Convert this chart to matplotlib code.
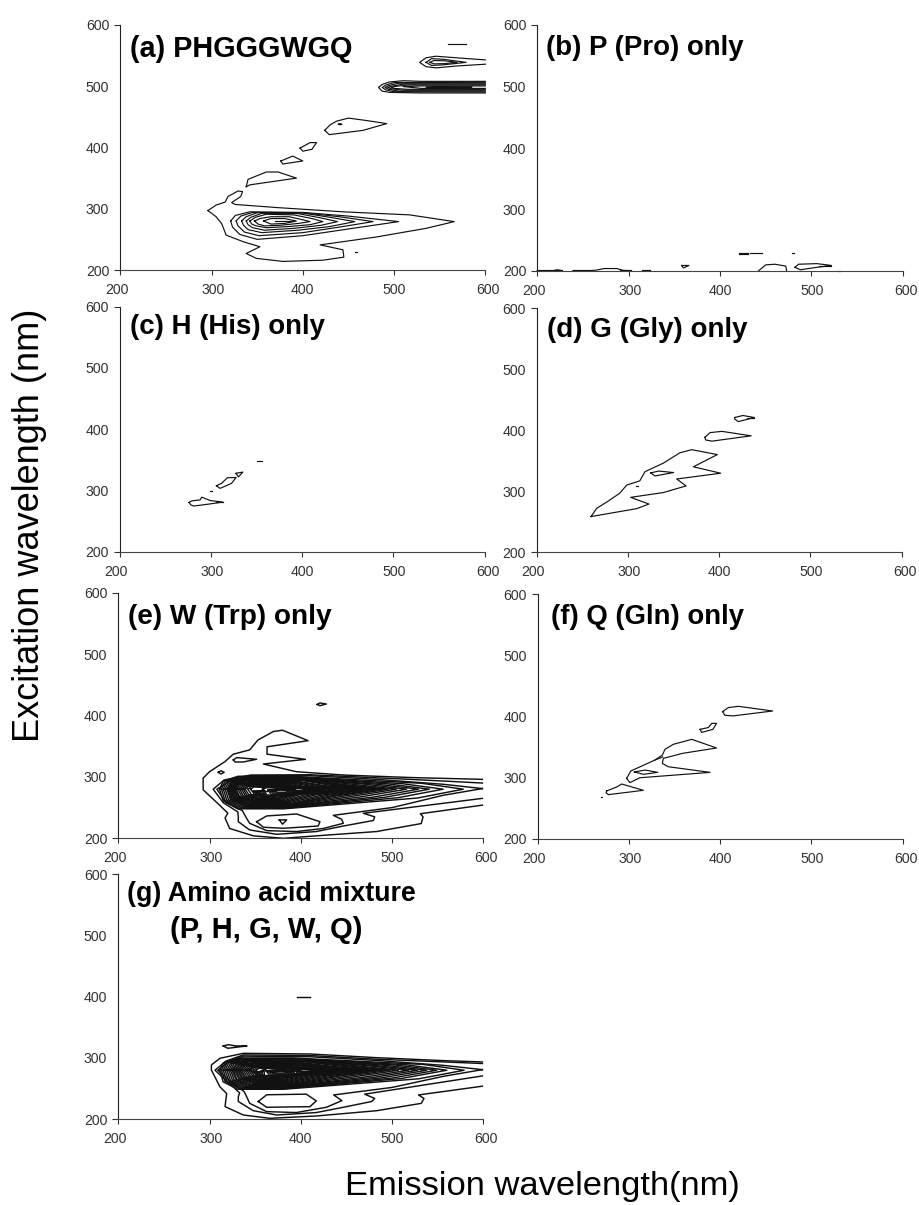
import matplotlib
matplotlib.use("Agg")
import matplotlib.pyplot as plt
from matplotlib.transforms import ScaledTranslation

plt.rcParams['font.family'] = ['Liberation Sans', 'DejaVu Sans']

W, H = 919, 1205
ticks = [200, 300, 400, 500, 600]
x_label_shift = [-3.5, 1.5, 0, 0.5, 3]
line_col = '#111111'

# each contour is a list of (emission, excitation)
a_closed = [
    [(296,297),(305,306),(315,311),(318,320),(329,329),(334,328),(332,320),(322,310),(326,307),(371,302),(444,295),(517,290),(566,279),(535,268),(481,254),(419,241),(444,233),(445,221),(422,216),(378,214),(349,219),(338,227),(353,238),(335,246),(316,257),(311,276),(305,287)],
    [(338,336),(340,348),(360,360),(373,360),(393,350),(342,339)],
    [(376,378),(389,386),(400,378),(378,373)],
    [(397,399),(408,408),(415,408),(410,397),(400,394)],
    [(424,428),(430,437),(437,443),(450,448),(470,444),(492,439),(466,428),(429,421)],
    [(439,438),(441,439),(443,438),(441,437)],
    [(321,280),(326,289),(342,295),(400,294),(450,288),(505,279),(450,267),(400,256),(350,250),(331,258),(323,270)],
    [(327,280),(332,288),(345,294),(400,293.5),(440,287),(477,279),(440,270),(400,261),(352,256),(336,262),(329,272)],
    [(333,280),(338,287),(350,293.5),(400,293),(430,286),(457,279),(430,271),(395,265),(355,261),(340,266),(335,273)],
    [(338,280),(343,286),(355,292.5),(395,292),(420,285),(438,279),(420,273),(390,268),(358,265),(345,269),(340,274)],
    [(342,280),(348,286),(360,291),(390,290),(410,284),(422,279),(408,274),(385,271),(360,269),(349,272),(344,275)],
    [(347,280),(353,284),(365,287),(385,287),(400,282),(408,279),(395,276),(375,273),(358,272),(351,275)],
    [(357,280),(365,284),(380,284),(393,280),(380,276),(365,275)],
    [(535,539),(541,545),(554,544),(579,539),(554,535),(541,534)],
    [(539,539),(544,542),(556,541.5),(569,539),(556,537),(544,536.5)],
    [(585,499),(545,499),(535,498.3),(585,498)],
]
a_open = [
    [(600,543),(568,546.5),(546,549),(535,546.5),(528,539),(535,532),(546,530),(568,533),(600,536)],
    [(600,508),(530,508),(510,509),(495,507),(487,503),(483,498),(487,492),(495,490),(530,489),(600,489)],
    [(600,506.5),(500,506),(491,502),(487,498),(491,494),(500,491),(600,490.5)],
    [(600,505),(505,505),(494,501),(490,498),(494,495),(505,492),(600,492)],
    [(600,503.5),(510,503.5),(497,500),(493,498),(497,496),(510,493.5),(600,493.5)],
    [(600,502),(515,502),(500,499.5),(497,498),(500,496.5),(515,495),(600,495)],
    [(600,500.5),(530,500.5),(510,499.5),(530,496.5),(600,496.5)],
    [(559,569),(579,569)],
    [(457,229),(459,229)],
    [(370,279.5),(390,279.5)],
]

b_closed = [
    [(358,209),(366,209),(360,205)],
    [(482,206),(486,211),(506,212),(522,209),(506,206),(488,202)],
]
b_open = [
    [(200,200.5),(217,200.5),(222,202),(227,200.5)],
    [(239,200.5),(257,200.5),(265,201.5),(273,204),(287,204),(294,201),(303,200.5)],
    [(200,201),(227,201)],
    [(239,201),(257,201)],
    [(290,201),(303,201)],
    [(315,201),(323,201)],
    [(421,229),(431,229)],
    [(433,229),(439,229)],
    [(441,229),(446,229)],
    [(421,228),(431,228)],
    [(479,229),(481,229)],
    [(442,200),(450,210),(460,211),(472,208),(473,200)],
    [(508,208),(522,208)],
    [(529,200.5),(531,200.5)],
]

c_closed = [
    [(276,280.5),(279,283),(288,284.5),(290,289),(299,283.6),(313,281),(299,278),(281,274.5),(278,276.5)],
    [(306,307.7),(311.5,311.5),(318,320.7),(327.5,321.2),(322.5,311.5),(310,303.4)],
    [(327.5,328),(335,330),(330,322)],
]
c_open = [
    [(305,281),(313,281)],
    [(299,299),(301,299)],
    [(351,348.5),(356,348.5)],
]

d_closed = [
    [(259.5,258.5),(265.8,272),(278.5,284),(291,296.7),(298.6,310),(313,317),(318.7,332),(338.8,346),(357,363),(369.9,368),(398,360),(371.7,340),(401.6,329.5),(353.4,320),(363.7,308.7),(338.8,297.8),(303,290),(323,279),(309.6,271.5)],
    [(325,330),(333.5,333),(350,330.6),(329.7,325)],
    [(384.5,388.5),(390,396),(403,398),(435,390.7),(392,382),(385,384)],
    [(417,420.7),(426,424),(438.5,420.7),(421,414),(417,418)],
]
d_open = [
    [(309,309),(311,309)],
    [(430,420.7),(438.5,420.7)],
]

# the W and mixture panels hold many nested contours around the 280 nm band
e_closed = [
    [(311,280),(315,293),(331,301),(391,301),(533,289.5),(578,280),(528,265.6),(381,248),(331,248),(315,261)],
    [(313,280),(317,293),(333,300),(393,300),(511,289),(556,280),(506,266),(383,249),(333,249),(317,261.5)],
    [(315,280),(319,292.5),(335,299),(395,299),(496,288.5),(541,280),(491,266.5),(385,250),(335,250),(319,262)],
    [(317,280),(321,292),(337,298),(397,298),(484,288),(529,280),(479,267),(387,251),(337,251),(321,262.5)],
    [(319,280),(323,292),(339,297.5),(399,297.5),(471,288),(516,280),(466,267.5),(389,252),(339,252),(323,263)],
    [(320,280),(324,291.5),(340,297),(400,297),(460,287.5),(505,280),(455,268),(390,253),(340,253),(324,263.5)],
    [(321,280),(325,291),(341,296),(400,296),(451,287),(496,280),(446,268.5),(390,254),(341,254),(325,264)],
    [(322,280),(326,291),(342,295.5),(400,295.5),(444,287),(489,280),(439,269),(390,255),(342,255),(326,264.5)],
    [(323,280),(327,290.5),(343,295),(400,295),(438,287),(483,280),(433,269),(390,256),(343,256),(327,265)],
    [(324,280),(328,290),(344,294.5),(400,294.5),(432,286.5),(477,280),(427,269.5),(390,257),(344,257),(328,265.5)],
    [(325,280),(329,289),(345,292.5),(398,292.5),(427,285.5),(472,280),(422,270),(388,258.5),(345,258.5),(329,266)],
    [(326,280),(330,289),(346,292),(396,292),(422,285.5),(467,280),(417,271),(386,259.5),(346,259.5),(330,267)],
    [(327,280),(331,288.5),(347,291),(394,291),(416,285),(461,280),(411,271),(384,260.5),(347,260.5),(331,267)],
    [(328,280),(332,288),(348,290),(392,290),(411,284.5),(456,280),(406,271.5),(382,261.5),(348,261.5),(332,268)],
    [(329,280),(333,287.5),(349,289),(390,289),(405,284),(450,280),(400,272),(380,262.5),(349,262.5),(333,268)],
    [(331,280),(335,287),(351,288),(388,288),(400,283.5),(445,280),(395,272.5),(378,263.5),(351,263.5),(335,269)],
    [(333,280),(337,286.5),(353,287),(386,287),(395,283),(440,280),(390,273),(376,264.5),(353,264.5),(337,269)],
    [(335,280),(339,286),(355,286),(384,286),(434,280),(374,265.5),(355,265.5),(339,270)],
    [(337,280),(341,285.5),(357,285),(382,285),(428,280),(372,266.5),(357,266.5),(341,270)],
    [(339,280),(343,285),(359,284),(380,284),(422,280),(370,268),(359,268),(343,271)],
    [(342,280),(346,284.5),(362,283),(378,283),(416,280),(368,269),(362,269),(346,271)],
    [(345,280),(349,284),(365,282.5),(376,282.5),(410,280),(372,270),(349,272)],
    [(364,279),(378,281.5),(394,279),(390,270.5),(368,270.5)],
    [(366,278.5),(378,280.5),(392,278.5),(388,272),(370,272)],
    [(368,278),(378,279.5),(390,278),(386,273.5),(372,273.5)],
    [(370,277.5),(378,278.5),(388,277.5),(384,275),(374,275)],
    [(348,277),(360,278),(362,272),(351,272.5)],
    [(350,276),(359,276.5),(360,273.5),(353,274)],
    [(396,277.5),(412,278),(396,272)],
    [(358,280),(365,284),(378,282),(372,277),(362,276)],
    [(385,279),(400,282),(425,280),(400,277)],
    [(326,327.6),(329.7,331.4),(351.6,328.7),(337,324.3),(328,324.3)],
    [(309.6,307.5),(312.5,310),(316,307.5),(312.5,304.7)],
    [(418,418),(421,420.4),(428,418.7),(421,416)],
    [(376.4,230),(384.5,230),(380,223)],
    [(351.6,227),(362.6,236.4),(395.4,239.6),(421,227),(419,220),(380.8,216.3),(359,218)],
]
e_open = [
    [(599,296),(520,299),(447,303),(395,308.5),(359,321),(405,328.6),(363,337),(363,349),(408,359),(380,376),(370,374),(353,360),(344,344),(326,337),(317,325),(300,308.5),(293,298),(293,279),(311,254),(320,241),(317,233),(322,216),(348,204),(381,200),(417,204),(483,211),(532,224),(534,235),(531,240),(599,254)],
    [(599,290),(520,296),(447,301),(410,303.5),(345,303),(316,295),(304,280),(315,258),(331,243),(331.5,235),(331.5,227),(344,213.6),(373.5,206.5),(417,211),(446.6,220),(479.5,229),(481,235),(468.5,240.7),(599,265)],
    [(599,281),(556,288),(483,296),(410,302),(345,302),(322,293),(308,280),(318,258),(336,245),(340.6,232.6),(344,224.4),(362.6,212.5),(395.4,211),(424.6,216),(446.6,224.4),(444.7,231),(435.6,237.4),(500,250),(556,270),(599,281)],
]

f_closed = [
    [(402.7,408),(409,414.6),(420,416.6),(457.5,409),(414.4,401),(405,402)],
    [(378,379),(387,382),(390.7,388.8),(396,388.8),(392,379),(379.7,374)],
    [(297.5,299),(302,311),(308.5,315.4),(328.6,329),(336.6,337),(339.5,346.4),(348.7,354.6),(368.8,362.7),(396,348.6),(359,339.9),(337.7,331.7),(336.6,323.5),(343,318),(388.9,308.8),(312,300),(301,292)],
    [(306,309.4),(317.7,312.6),(331.5,308.8),(315.9,305.6)],
    [(275.6,278.4),(287.3,285.4),(292,289.8),(315.8,279.5),(277.4,272.4),(274.9,275.6)],
]
f_open = [
    [(269.5,268.6),(270.5,268.6)],
    [(328.6,329),(337,334)],
]

g_closed = [
    [(311,280),(315,292),(331,300),(391,300),(534,289.5),(579,280),(529,266),(381,249),(331,249),(315,261)],
    [(313,280),(317,292),(333,299),(393,299),(515,289),(560,280),(510,266.5),(383,250),(333,250),(317,262)],
    [(315,280),(319,292),(335,298.5),(395,298.5),(504,288.5),(549,280),(499,267),(385,251),(335,251),(319,262)],
    [(317,280),(321,292),(337,298),(397,298),(493,288),(538,280),(488,267.5),(387,252),(337,252),(321,263)],
    [(319,280),(323,291),(339,297),(399,297),(483,287.5),(528,280),(478,268),(389,253),(339,253),(323,263)],
    [(321,280),(325,291),(341,296.5),(400,296.5),(473,287.5),(518,280),(468,268.5),(390,254),(341,254),(325,264)],
    [(323,280),(327,291),(343,296),(400,296),(462,287),(507,280),(457,269),(390,255),(343,255),(327,264)],
    [(324.5,280),(329,290),(345,295),(400,295),(453,287),(498,280),(448,269.5),(390,256),(345,256),(329,265)],
    [(326,280),(330,290),(346,294.5),(400,294.5),(445,286.5),(490,280),(440,270),(390,257),(346,257),(330,265)],
    [(327.5,280),(332,289),(348,292.5),(400,292.5),(439,285.5),(484,280),(434,270),(390,258.5),(348,258.5),(332,266)],
    [(329,280),(333,289),(349,292),(398,292),(433,285.5),(478,280),(428,270.5),(388,259.5),(349,259.5),(333,267)],
    [(330.5,280),(335,288.5),(351,291),(396,291),(428,285),(473,280),(423,271),(386,260.5),(351,260.5),(335,267)],
    [(332,280),(336,288),(352,290.5),(394,290.5),(423,285),(468,280),(418,271.5),(384,261.5),(352,261.5),(336,268)],
    [(333.5,280),(338,288),(354,290),(392,290),(418,284.5),(463,280),(413,272),(382,262.5),(354,262.5),(338,268)],
    [(335,280),(339,287.5),(355,289),(390,289),(413,284),(458,280),(408,272),(380,263.5),(355,263.5),(339,269)],
    [(337,280),(341,287),(357,288),(388,288),(408,283.5),(453,280),(403,272.5),(378,264.5),(357,264.5),(341,269)],
    [(339,280),(343,286.5),(359,287),(386,287),(403,283),(448,280),(398,273),(376,265.5),(359,265.5),(343,270)],
    [(341,280),(345,286),(361,286),(384,286),(443,280),(374,266.5),(361,266.5),(345,270)],
    [(343,280),(347,285.5),(363,285),(382,285),(438,280),(372,267.5),(363,267.5),(347,271)],
    [(345,280),(349,285),(365,284),(380,284),(432,280),(370,268.5),(349,271)],
    [(348,280),(352,284.5),(368,283),(378,283),(426,280),(372,269.5),(352,272)],
    [(351,280),(355,284),(370,282.5),(378,282.5),(420,280),(374,270.5),(355,272)],
    [(362,279),(378,281.5),(394,279),(390,271),(366,271)],
    [(364,278.5),(378,280.5),(392,278.5),(388,272.5),(368,272.5)],
    [(366,278),(378,279.5),(390,278),(386,274),(370,274)],
    [(368,277.5),(378,278.5),(388,277.5),(384,275.5),(372,275.5)],
    [(348,277),(360,278),(360,272),(351,272.5)],
    [(350,276),(358,276.5),(358,273.5),(353,274)],
    [(396,277.5),(412,278),(396,272)],
    [(340,280),(350,285),(362,281),(352,277)],
    [(395,279),(405,282),(417,280),(405,277)],
    [(353.4,229),(362.6,240),(406,241),(417,230),(410,220.6),(362.6,219.6)],
    [(315,319.6),(320.5,321.7),(329,319.6),(341,319.6),(328.5,317.4),(320,315.8)],
]
g_open = [
    [(599,293.5),(556,295.7),(483,300.5),(410,306.5),(337,307.6),(311.4,299.5),(302,288.6),(302,280.4),(311.4,253),(318.7,242),(317,220.7),(337,207),(366,201.6),(417,205.4),(483,214),(532,226),(535,234),(529,239.7),(599,254)],
    [(599,291),(483,298),(410,304),(337,305),(318,295),(306,280),(322,258),(333,243),(331.5,237),(331.5,229),(348,214),(373.5,207),(417,211),(446.6,219.6),(477.6,229),(481,234),(470,241),(599,270.7)],
    [(599,281),(556,288),(483,296),(410,302),(337,303),(320,293),(309,280),(326,258),(338,245),(340.6,237),(344,226),(362.6,212.5),(395,211),(428,219.6),(445,230.4),(436,239.7),(500,252),(556,270),(599,281)],
    [(395.4,399.5),(410,399.5)],
]

panel_names = ["(a) PHGGGWGQ", "(b) P (Pro) only", "(c) H (His) only", "(d) G (Gly) only",
               "(e) W (Trp) only", "(f) Q (Gln) only", "(g) Amino acid mixture"]
closed_sets = [a_closed, b_closed, c_closed, d_closed, e_closed, f_closed, g_closed]
open_sets = [a_open, b_open, c_open, d_open, e_open, f_open, g_open]

# pixel box of each panel: left, right, top, bottom
boxes = [(120.3, 485.3, 25, 270), (537.3, 902.7, 25, 271), (119.7, 484.7, 306.7, 551.7),
         (536.7, 901.7, 308, 552.3), (118.3, 483.3, 592.7, 838.3), (537.7, 902.7, 594, 839),
         (118.3, 483.3, 874, 1119.3)]
label_pos = [(210.6, 561.6), (209.5, 562.6), (211.3, 567.3), (211.3, 564),
             (210.6, 561), (214.6, 562.4), (209.5, 568)]
label_size = [20.8, 19.9, 19.9, 20, 20.2, 19.8, 19.3]
line_width = [0.85, 0.85, 0.85, 0.85, 1.05, 0.85, 1.05]

fig = plt.figure(figsize=(W / 100, H / 100), dpi=100)

for i in range(7):
    x0, x1, y0, y1 = boxes[i]
    ax = fig.add_axes([x0 / W, 1 - y1 / H, (x1 - x0) / W, (y1 - y0) / H])
    for c in closed_sets[i]:
        pts = c + [c[0]]
        ax.plot([p[0] for p in pts], [p[1] for p in pts], color=line_col, lw=line_width[i], clip_on=False)
    for c in open_sets[i]:
        ax.plot([p[0] for p in c], [p[1] for p in c], color=line_col, lw=line_width[i], clip_on=False)

    ax.set_xlim(200, 600)
    ax.set_ylim(200, 600)
    ax.set_xticks(ticks)
    ax.set_yticks(ticks)
    ax.spines['top'].set_visible(False)
    ax.spines['right'].set_visible(False)
    ax.spines['left'].set_color('#222222')
    ax.spines['bottom'].set_color('#444444')
    ax.tick_params(axis='x', length=3.5, width=0.8, pad=6, labelsize=10.2, color='#333333', labelcolor='#333333')
    ax.tick_params(axis='y', length=4.5, width=0.8, pad=3.5, labelsize=10.2, color='#333333', labelcolor='#333333')
    for t in ax.yaxis.get_major_ticks()[1:4]:
        t.tick1line.set_visible(False)
    for lab, dx in zip(ax.get_xticklabels(), x_label_shift):
        lab.set_transform(lab.get_transform() + ScaledTranslation(dx / 100, 0, fig.dpi_scale_trans))

    ax.text(label_pos[i][0], label_pos[i][1], panel_names[i], fontsize=label_size[i], fontweight='bold',
            va='center', ha='left', color='black')
    if i == 6:
        ax.text(257, 509, "(P, H, G, W, Q)", fontsize=21, fontweight='bold', va='center', ha='left')

fig.text(30 / W, 1 - 525 / H, "Excitation wavelength (nm)", rotation=90, fontsize=26, ha='center', va='center')
fig.text(542 / W, 1 - 1187 / H, "Emission wavelength(nm)", fontsize=24.8, ha='center', va='center')

plt.savefig('out.png', dpi=100)
